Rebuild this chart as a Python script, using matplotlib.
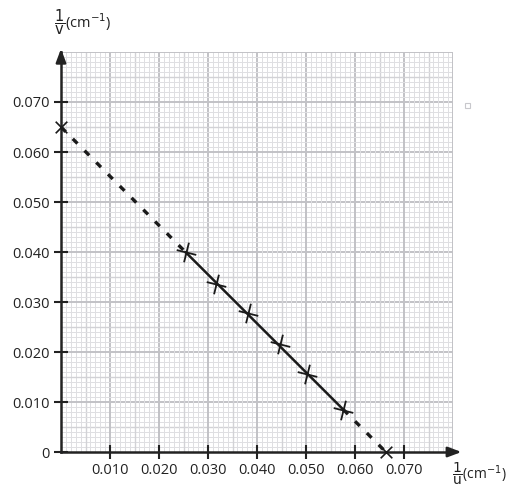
import matplotlib
matplotlib.use("Agg")
import matplotlib.pyplot as plt
from matplotlib.markers import MarkerStyle
from matplotlib.transforms import Affine2D
from matplotlib.patches import Rectangle
import numpy as np

# measured points (1/u, 1/v) in cm^-1
inv_u = [0.0255, 0.0316, 0.0381, 0.0447, 0.0503, 0.0576]
inv_v = [0.0399, 0.0337, 0.0278, 0.0216, 0.0156, 0.0085]
# intercepts of the extrapolated line
x_icpt = [0.0, 0.0663]
y_icpt = [0.0650, 0.0]

xticks = [0.010, 0.020, 0.030, 0.040, 0.050, 0.060, 0.070]
yticks = [0, 0.010, 0.020, 0.030, 0.040, 0.050, 0.060, 0.070]

plt.rcParams['font.family'] = ['Open Sans', 'DejaVu Sans']
plt.rcParams['mathtext.fontset'] = 'dejavusans'

fig = plt.figure(figsize=(5.12, 4.9), dpi=100)
ax = fig.add_axes([61/512, 38/490, 392/512, 400/490])
ax.set_xlim(0, 0.080)
ax.set_ylim(0, 0.080)

# graph paper
for v in np.arange(0.001, 0.080, 0.001):
    i = int(round(v * 1000))
    if i % 10 == 0:
        c, lw = '#c2c2c6', 1.4
    elif i % 5 == 0:
        c, lw = '#d2d2d6', 1.0
    else:
        c, lw = '#dfdfe2', 0.7
    ax.axvline(v, color=c, lw=lw, zorder=0)
    ax.axhline(v, color=c, lw=lw, zorder=0)
ax.axvline(0.080, color='#c2c2c6', lw=1.4, zorder=0)
ax.axhline(0.080, color='#c2c2c6', lw=1.4, zorder=0)

for s in ['top', 'right']:
    ax.spines[s].set_visible(False)
for s in ['left', 'bottom']:
    ax.spines[s].set_linewidth(1.8)
    ax.spines[s].set_color('#222222')

ax.set_xticks(xticks)
ax.set_xticklabels(['%.3f' % t for t in xticks])
ax.set_yticks(yticks)
ax.set_yticklabels(['0'] + ['%.3f' % t for t in yticks[1:]])
ax.tick_params(axis='both', direction='inout', length=10, width=1.5,
               color='#222222', labelsize=10.5, labelcolor='#222222')
ax.tick_params(axis='x', pad=3)
ax.tick_params(axis='y', pad=3)

# arrows
ax.annotate('', xy=(0.0823, 0), xytext=(0.079, 0), xycoords='data',
            arrowprops=dict(arrowstyle='-|>,head_length=0.8,head_width=0.3',
                            color='#222222', lw=1.8), annotation_clip=False)
ax.annotate('', xy=(0, 0.0812), xytext=(0, 0.078), xycoords='data',
            arrowprops=dict(arrowstyle='-|>,head_length=0.8,head_width=0.3',
                            color='#222222', lw=1.8), annotation_clip=False)

# line of best fit
ax.plot([inv_u[0], inv_u[-1]], [inv_v[0], inv_v[-1]], color='#1a1a1a', lw=1.8, zorder=3)
ax.plot([x_icpt[0], inv_u[0]], [y_icpt[0], inv_v[0]], color='#1a1a1a', lw=2.4,
        ls=(0, (2, 3)), zorder=3)
ax.plot([inv_u[-1], x_icpt[1]], [inv_v[-1], y_icpt[1]], color='#1a1a1a', lw=2.4,
        ls=(0, (2, 3)), zorder=3)

mk = MarkerStyle('+', transform=Affine2D().rotate_deg(-14))
ax.scatter(inv_u, inv_v, marker=mk, s=210, color='#1a1a1a', lw=1.3, zorder=4)
ax.scatter(x_icpt, y_icpt, marker='x', s=70, color='#1a1a1a', lw=1.2, zorder=4,
           clip_on=False)

fig.text(54/512, 1 - 22/490, r'$\dfrac{1}{\mathrm{v}}$(cm$^{-1}$)', fontsize=10.5,
         va='center', color='#222222')
fig.text(452/512, 1 - 474/490, r'$\dfrac{1}{\mathrm{u}}$(cm$^{-1}$)', fontsize=10,
         va='center', color='#222222')

# small stray box at right of the grid
fig.patches.append(Rectangle((465/512, 1 - 108/490), 5/512, 5/490, fill=False,
                             ec='#c8c8cc', lw=0.8, transform=fig.transFigure))

fig.savefig('out.png', dpi=100)
